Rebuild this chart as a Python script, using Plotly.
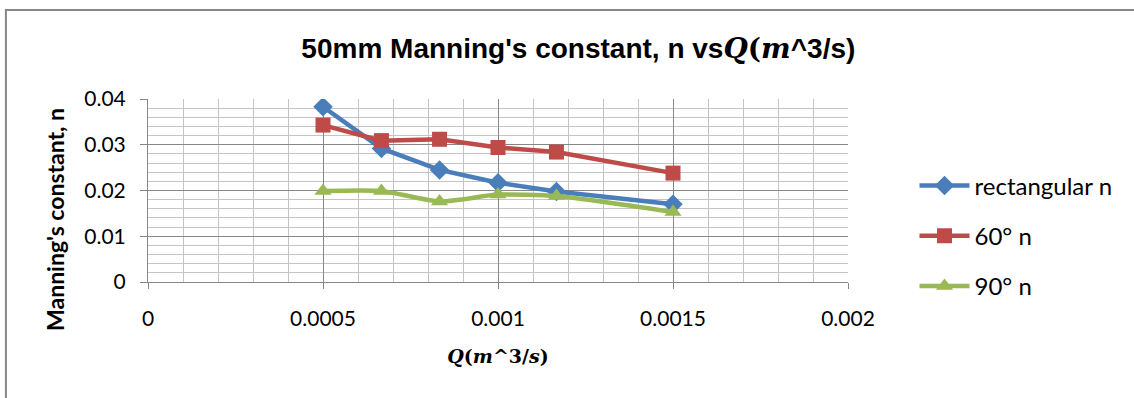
import plotly.graph_objects as go

q = [0.0005, 0.000667, 0.000833, 0.001, 0.001167, 0.0015]
rect_n = [0.0383, 0.0292, 0.0245, 0.0217, 0.0198, 0.0170]
n60 = [0.0343, 0.0309, 0.0312, 0.0294, 0.0284, 0.0238]
n90 = [0.0199, 0.0199, 0.0176, 0.0191, 0.0188, 0.0153]

x_ticks = [0, 0.0005, 0.001, 0.0015, 0.002]
x_labels = ["0", "0.0005", "0.001", "0.0015", "0.002"]
y_ticks = [0, 0.01, 0.02, 0.03, 0.04]
y_labels = ["0", "0.01", "0.02", "0.03", "0.04"]

font_main = "Lato, Carlito, Calibri, sans-serif"

fig = go.Figure()
fig.add_trace(go.Scatter(x=q, y=rect_n, name="rectangular n", mode="lines+markers", legendgroup="a",
                         line=dict(color="#4a7ebb", width=4.5),
                         marker=dict(symbol="diamond", size=15, color="#4a7ebb")))
fig.add_trace(go.Scatter(x=q, y=n60, name="60° n", mode="lines+markers", legendgroup="b",
                         line=dict(color="#be4b48", width=4.5),
                         marker=dict(symbol="square", size=15, color="#be4b48")))
fig.add_trace(go.Scatter(x=q, y=n90, name="90° n", mode="lines+markers", legendgroup="c",
                         line=dict(color="#98b954", width=4.5, shape="spline", smoothing=0.6),
                         marker=dict(symbol="triangle-up", size=15, color="#98b954")))

fig.update_layout(
    width=1134, height=398,
    margin=dict(l=148, r=286, t=99, b=116),
    paper_bgcolor="white", plot_bgcolor="white",
    title=dict(text="<b>50mm Manning's constant, n vs<span style=\"font-family:'DejaVu Serif'\"><i>Q</i>(<i>m</i></span>^3/s)</b>",
               x=0.51, xanchor="center", y=0.879, yanchor="middle",
               font=dict(family="Liberation Sans, Arial, sans-serif", size=28, color="black")),
    showlegend=True,
    legend=dict(x=1.095, xanchor="left", xref="paper", y=0.252, yanchor="middle",
                font=dict(family=font_main, size=24, color="black"),
                tracegroupgap=16, itemwidth=50, bgcolor="rgba(0,0,0,0)"),
    font=dict(family=font_main, size=21, color="black"),
)

fig.update_xaxes(range=[0, 0.002], tickvals=x_ticks, ticktext=x_labels,
                 showgrid=True, gridcolor="#878787", gridwidth=1,
                 minor=dict(dtick=0.0001, showgrid=True, gridcolor="#c4c4c4", gridwidth=1, ticks=""),
                 showline=True, linecolor="#878787", linewidth=1,
                 ticks="outside", ticklen=6, tickcolor="#878787",
                 ticklabelstandoff=12,
                 zeroline=False,
                 tickfont=dict(family=font_main, size=21, color="black"),
                 title=dict(text="<b><i>Q</i>(<i>m</i>^3/<i>s</i>)</b>", standoff=20,
                            font=dict(family="DejaVu Serif, serif", size=19, color="black")))
fig.update_yaxes(range=[0, 0.04], tickvals=y_ticks, ticktext=y_labels,
                 showgrid=True, gridcolor="#878787", gridwidth=1,
                 minor=dict(dtick=0.002, showgrid=True, gridcolor="#c4c4c4", gridwidth=1, ticks=""),
                 showline=True, linecolor="#878787", linewidth=1,
                 ticks="outside", ticklen=7, tickcolor="#878787",
                 ticklabelstandoff=10,
                 zeroline=False,
                 tickfont=dict(family=font_main, size=21, color="black"))

fig.add_annotation(text="<b>Manning's constant, n</b>", textangle=-90,
                   xref="paper", yref="paper", x=-0.133, y=0.344,
                   xanchor="center", yanchor="middle", showarrow=False,
                   font=dict(family=font_main, size=23, color="black"))

fig.add_shape(type="rect", xref="paper", yref="paper", x0=-0.203, x1=1.417, y0=-0.672, y1=1.486,
              line=dict(color="#878787", width=2))

fig.write_html("out.html")
